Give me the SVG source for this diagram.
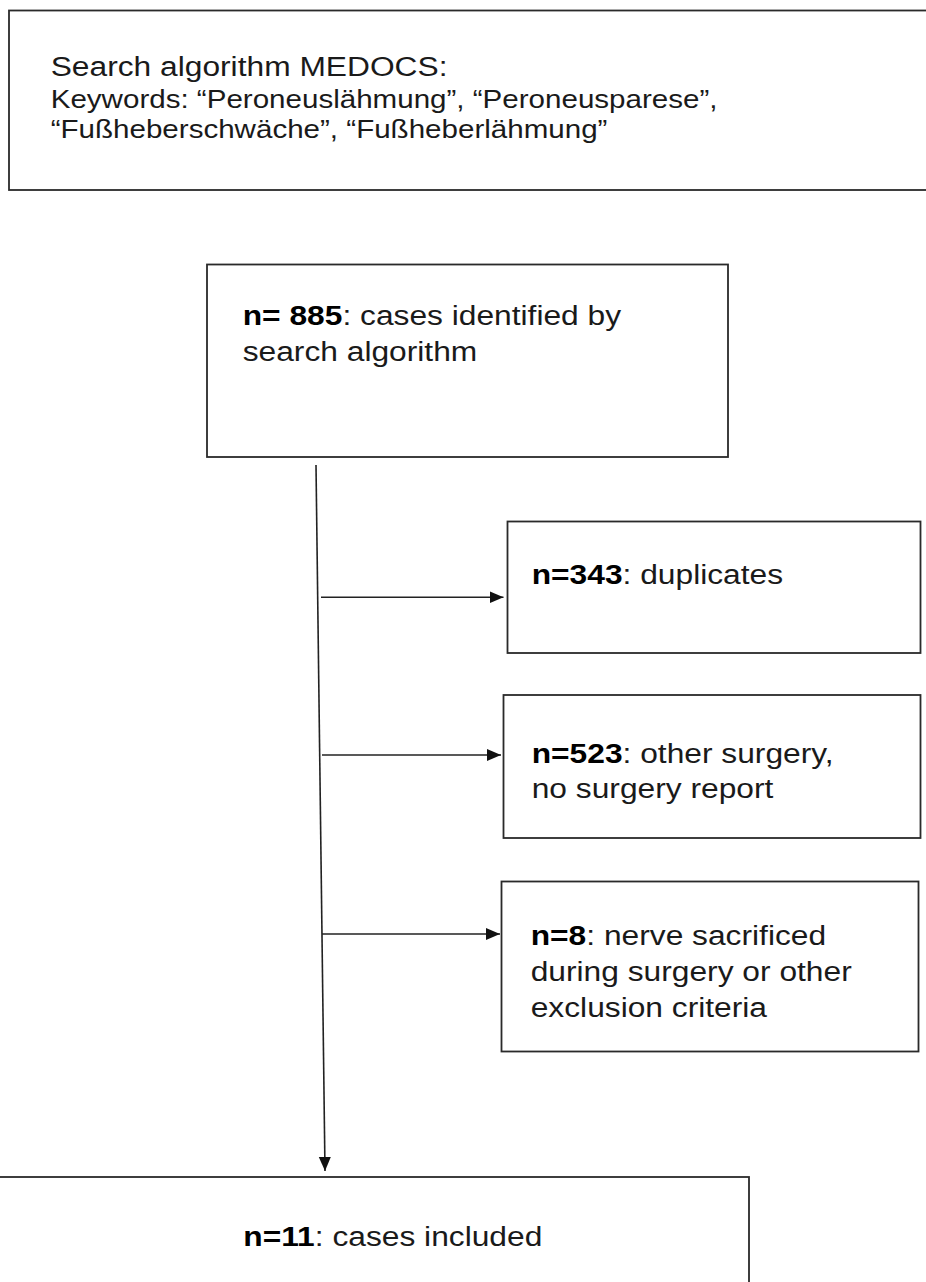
<svg xmlns="http://www.w3.org/2000/svg" width="926" height="1282" viewBox="0 0 926 1282">
  <defs>
    <marker id="arrow" markerUnits="userSpaceOnUse" markerWidth="15" markerHeight="13" refX="14" refY="6.5" orient="auto">
      <path d="M0,0.5 L14,6.5 L0,12.5 Z" fill="#111"/>
    </marker>
    <style>
      .box { fill: #fff; stroke: #2a2a2a; stroke-width: 1.8; }
      .t { font-family: "Liberation Sans", Arial, sans-serif; fill: #1a1a1a; font-size: 27.6px; }
      .small { font-size: 25.7px; }
      .b { font-weight: bold; fill: #000; }
      .conn { stroke: #222; stroke-width: 1.6; fill: none; }
    </style>
  </defs>
  <rect width="926" height="1282" fill="#fff"/>

  <g id="node-search">
    <rect class="box" x="9" y="10.5" width="930" height="179.5"/>
    <text class="t" transform="matrix(1.15 0 0 1 50.7 0)">
      <tspan x="0" y="76">Search algorithm MEDOCS:</tspan>
      <tspan class="small" x="0" y="108">Keywords: “Peroneuslähmung”, “Peroneusparese”,</tspan>
      <tspan class="small" x="0" y="138">“Fußheberschwäche”, “Fußheberlähmung”</tspan>
    </text>
  </g>

  <g id="node-885">
    <rect class="box" x="207" y="264.5" width="521" height="192.5"/>
    <text class="t" transform="matrix(1.15 0 0 1 242.7 0)">
      <tspan x="0" y="325"><tspan class="b">n= 885</tspan>: cases identified by</tspan>
      <tspan x="0" y="361">search algorithm</tspan>
    </text>
  </g>

  <g id="node-343">
    <rect class="box" x="507.5" y="521.5" width="413" height="131.5"/>
    <text class="t" transform="matrix(1.15 0 0 1 531.7 0)">
      <tspan x="0" y="584"><tspan class="b">n=343</tspan>: duplicates</tspan>
    </text>
  </g>

  <g id="node-523">
    <rect class="box" x="503.5" y="695" width="417" height="143"/>
    <text class="t" transform="matrix(1.15 0 0 1 531.7 0)">
      <tspan x="0" y="763"><tspan class="b">n=523</tspan>: other surgery,</tspan>
      <tspan x="0" y="798">no surgery report</tspan>
    </text>
  </g>

  <g id="node-8">
    <rect class="box" x="501.5" y="881.5" width="417" height="170"/>
    <text class="t" transform="matrix(1.15 0 0 1 530.7 0)">
      <tspan x="0" y="945"><tspan class="b">n=8</tspan>: nerve sacrificed</tspan>
      <tspan x="0" y="981">during surgery or other</tspan>
      <tspan x="0" y="1017">exclusion criteria</tspan>
    </text>
  </g>

  <g id="node-11">
    <rect class="box" x="-10" y="1177" width="759" height="130"/>
    <text class="t" transform="matrix(1.15 0 0 1 243.3 0)">
      <tspan x="0" y="1246.5"><tspan class="b">n=11</tspan>: cases included</tspan>
    </text>
  </g>

  <g id="connectors">
    <line class="conn" x1="316" y1="465" x2="325" y2="1171" marker-end="url(#arrow)"/>
    <line class="conn" x1="321" y1="597.3" x2="503.5" y2="597.3" marker-end="url(#arrow)"/>
    <line class="conn" x1="322" y1="755" x2="501" y2="755" marker-end="url(#arrow)"/>
    <line class="conn" x1="322" y1="934" x2="500" y2="934" marker-end="url(#arrow)"/>
  </g>
</svg>
